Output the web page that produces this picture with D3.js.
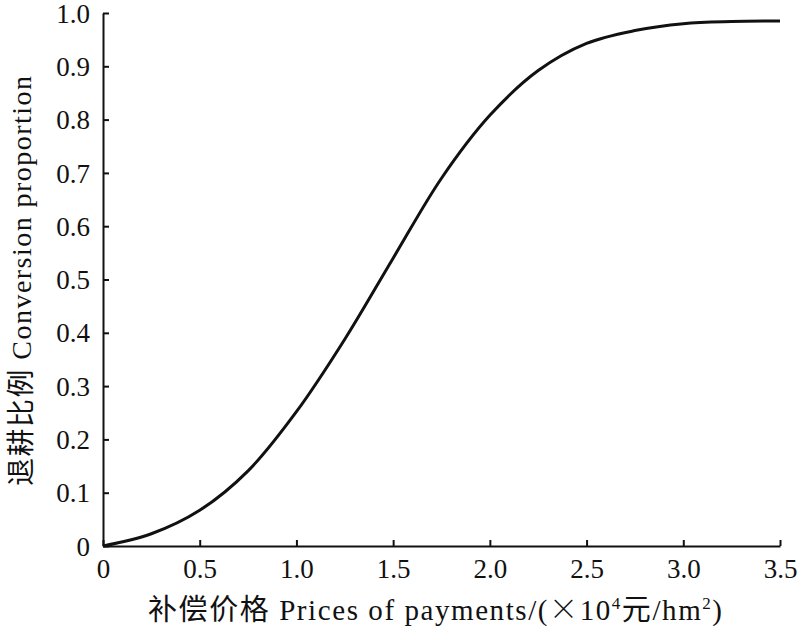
<!DOCTYPE html>
<html>
<head>
<meta charset="utf-8">
<script src="https://cdn.jsdelivr.net/npm/d3@7/dist/d3.min.js"></script>
<style>
  html, body { margin: 0; padding: 0; background: #fff; }
  svg { display: block; }
  text { font-family: "Liberation Serif", "Times New Roman", "Noto Sans CJK SC", serif; fill: #111; }
</style>
</head>
<body>
<svg id="chart" width="800" height="627"></svg>
<script>
// Data
const priceValues = [0, 0.25, 0.5, 0.75, 1.0, 1.25, 1.5, 1.75, 2.0, 2.25, 2.5, 2.75, 3.0, 3.25, 3.5];
const proportionValues = [0, 0.023, 0.067, 0.141, 0.252, 0.388, 0.540, 0.690, 0.808, 0.892, 0.943, 0.967, 0.980, 0.984, 0.985];
const xTickValues = [0, 0.5, 1.0, 1.5, 2.0, 2.5, 3.0, 3.5];
const yTickValues = [0, 0.1, 0.2, 0.3, 0.4, 0.5, 0.6, 0.7, 0.8, 0.9, 1.0];

const svg = d3.select("#chart");
const mLeft = 103, mRight = 780, mTop = 13, mBottom = 546;

const x = d3.scaleLinear().domain([0, 3.5]).range([mLeft, mRight]);
const y = d3.scaleLinear().domain([0, 1.0]).range([mBottom, mTop]);

const fmt = v => v === 0 ? "0" : d3.format(".1f")(v);

// X axis
const xAxis = svg.append("g")
  .attr("transform", `translate(0,${mBottom})`)
  .call(d3.axisBottom(x).tickValues(xTickValues).tickFormat(fmt).tickSizeInner(-6).tickSizeOuter(0).tickPadding(13));
xAxis.select(".domain").attr("stroke", "#111").attr("stroke-width", 2);
xAxis.selectAll(".tick line").attr("stroke", "#111").attr("stroke-width", 2);
xAxis.selectAll(".tick text").attr("font-size", 27).attr("font-family", "Liberation Serif").attr("fill", "#111");

// Y axis
const yAxis = svg.append("g")
  .attr("transform", `translate(${mLeft},0)`)
  .call(d3.axisLeft(y).tickValues(yTickValues).tickFormat(fmt).tickSizeInner(-6).tickSizeOuter(0).tickPadding(13));
yAxis.select(".domain").attr("stroke", "#111").attr("stroke-width", 2);
yAxis.selectAll(".tick line").attr("stroke", "#111").attr("stroke-width", 2);
yAxis.selectAll(".tick text").attr("font-size", 27).attr("font-family", "Liberation Serif").attr("fill", "#111")
  .attr("dy", "0.34em");

// Curve
const pts = priceValues.map((p, i) => [p, proportionValues[i]]);
const line = d3.line().x(d => x(d[0])).y(d => y(d[1])).curve(d3.curveCatmullRom.alpha(0.5));
svg.append("path")
  .datum(pts)
  .attr("d", line)
  .attr("fill", "none")
  .attr("stroke", "#111")
  .attr("stroke-width", 3);

// X title
const xt = svg.append("text")
  .attr("x", 148).attr("y", 620)
  .attr("text-anchor", "start")
  .attr("font-size", 29)
  .attr("textLength", 574)
  .attr("lengthAdjust", "spacing");
xt.append("tspan").attr("font-family", "Noto Sans CJK SC").text("补偿价格");
xt.append("tspan").text(" Prices of payments/(");
xt.append("tspan").attr("font-family", "Noto Sans CJK SC").attr("font-weight", 300).text("×");
xt.append("tspan").text("10");
xt.append("tspan").attr("font-size", 17).attr("dy", -11).text("4");
xt.append("tspan").attr("dy", 11).attr("font-family", "Noto Sans CJK SC").text("元");
xt.append("tspan").text("/hm");
xt.append("tspan").attr("font-size", 17).attr("dy", -11).text("2");
xt.append("tspan").attr("dy", 11).text(")");

// Y title
const yt = svg.append("text")
  .attr("transform", "translate(31,486) rotate(-90)")
  .attr("text-anchor", "start")
  .attr("font-size", 28)
  .attr("textLength", 410)
  .attr("lengthAdjust", "spacing");
yt.append("tspan").attr("font-family", "Noto Sans CJK SC").text("退耕比例");
yt.append("tspan").text(" Conversion proportion");
</script>
</body>
</html>
